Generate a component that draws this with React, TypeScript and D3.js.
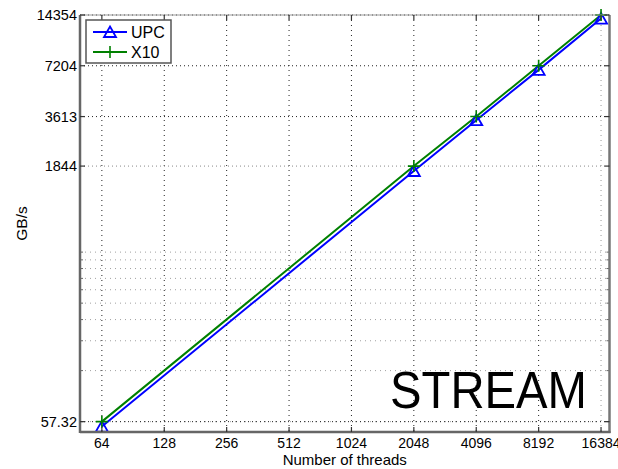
import React from 'react';
import * as d3 from 'd3';

// thread counts where both runs were measured
const threads = [64, 2048, 4096, 8192, 16384];
const upcGBs = [53.6, 1725, 3440, 6810, 13680];
const x10GBs = [57.32, 1844, 3613, 7204, 14354];

const seriesNames = ['UPC', 'X10'];
const xTicks = [64, 128, 256, 512, 1024, 2048, 4096, 8192, 16384];
const yTicks = [57.32, 1844, 3613, 7204, 14354];
const yTickLabels = ['57.32', '1844', '3613', '7204', '14354'];
// minor log grid of the original axis (its units: 100 sits at the 57.32 tick)
const yMinor = [100, 200, 300, 400, 500, 600, 700, 800, 900, 1000];
const minorToGBs = 57.32 / 100;

const width = 618, height = 469;
const plot = { left: 80, right: 609.5, top: 15, bottom: 432 };
const font = '"Liberation Sans", Arial, Helvetica, sans-serif';
const blue = '#0000ff', green = '#008000';

const App = () => {
  const x = d3.scaleLog().base(2).domain([50.2, 18000]).range([plot.left, plot.right]);
  const y = d3.scaleLog().domain([49.8, 14354]).range([plot.bottom, plot.top]);

  const line = d3.line<number>()
    .x((d, i) => x(threads[i]))
    .y(d => y(d));

  const tri = 'M0,-5.5L6,5L-6,5Z';
  const plus = 'M-6,0H6M0,-6V6';

  const marker = (name: string, cx: number, cy: number, key: string) =>
    name === 'UPC'
      ? <path key={key} d={tri} transform={`translate(${cx},${cy})`} fill="none" stroke={blue} strokeWidth={1.8} />
      : <path key={key} d={plus} transform={`translate(${cx},${cy})`} fill="none" stroke={green} strokeWidth={1.6} />;

  return (
    <svg width={width} height={height} style={{ position: 'absolute', left: 0, top: 0, background: '#fff' }} fontFamily={font}>
      <rect x={0} y={0} width={width} height={height} fill="#fff" />

      {/* minor horizontal grid */}
      {yMinor.map(v => {
        const yy = y(v * minorToGBs);
        return (
          <g key={'m' + v}>
            <line x1={plot.left} x2={plot.right} y1={yy} y2={yy} stroke="#a0a0a0" strokeWidth={1} strokeDasharray="1,4" />
            <line x1={plot.left} x2={plot.left + 3} y1={yy} y2={yy} stroke="#666" />
            <line x1={plot.right - 3} x2={plot.right} y1={yy} y2={yy} stroke="#666" />
          </g>
        );
      })}

      {/* major grid */}
      {xTicks.map(t => (
        <line key={'gx' + t} x1={x(t)} x2={x(t)} y1={plot.top} y2={plot.bottom}
          stroke={t === 16384 ? '#999' : '#222'} strokeWidth={1} strokeDasharray="1,4" />
      ))}
      {yTicks.map(t => (
        <line key={'gy' + t} x1={plot.left} x2={plot.right} y1={y(t)} y2={y(t)}
          stroke={t === 1844 ? '#888' : '#222'} strokeWidth={1} strokeDasharray="1,3" />
      ))}

      {/* data */}
      <path d={line(upcGBs) || ''} fill="none" stroke={blue} strokeWidth={2} />
      <path d={line(x10GBs) || ''} fill="none" stroke={green} strokeWidth={2} />
      {upcGBs.map((v, i) => marker('UPC', x(threads[i]), y(v), 'u' + i))}
      {x10GBs.map((v, i) => marker('X10', x(threads[i]), y(v), 'x' + i))}

      {/* axes box */}
      <line x1={plot.left} x2={plot.right} y1={plot.top} y2={plot.top} stroke="#999" strokeWidth={1} />
      <line x1={plot.left} x2={plot.left} y1={plot.top} y2={plot.bottom + 1} stroke="#666" strokeWidth={2.5} />
      <line x1={plot.right} x2={plot.right} y1={plot.top} y2={plot.bottom + 1} stroke="#777" strokeWidth={2.5} />
      <line x1={plot.left} x2={plot.right + 1} y1={plot.bottom} y2={plot.bottom} stroke="#666" strokeWidth={2.5} />

      {/* ticks */}
      {xTicks.map(t => (
        <g key={'tx' + t}>
          <line x1={x(t)} x2={x(t)} y1={plot.bottom} y2={plot.bottom - 5} stroke="#333" strokeWidth={1.2} />
          <line x1={x(t)} x2={x(t)} y1={plot.top} y2={plot.top + 5} stroke="#333" strokeWidth={1.2} />
          <text x={x(t)} y={448} textAnchor="middle" fontSize={14} fill="#000">{t}</text>
        </g>
      ))}
      {yTicks.map((t, i) => (
        <g key={'ty' + t}>
          <line x1={plot.left} x2={plot.left + 5} y1={y(t)} y2={y(t)} stroke="#333" strokeWidth={1.2} />
          <line x1={plot.right - 5} x2={plot.right} y1={y(t)} y2={y(t)} stroke="#333" strokeWidth={1.2} />
          <text x={77} y={y(t) + 5} textAnchor="end" fontSize={14.5} fill="#000">{yTickLabels[i]}</text>
        </g>
      ))}

      {/* axis titles */}
      <text x={(plot.left + plot.right) / 2} y={465} textAnchor="middle" fontSize={15} fill="#000">Number of threads</text>
      <text transform={`translate(27,${(plot.top + plot.bottom) / 2}) rotate(-90)`} textAnchor="middle" fontSize={15.5} fill="#000">GB/s</text>

      {/* legend */}
      <rect x={86} y={20} width={85} height={43} fill="#fff" stroke="#555" strokeWidth={1.5} />
      {seriesNames.map((name, i) => {
        const ly = 32 + i * 20;
        return (
          <g key={'l' + name}>
            <line x1={93} x2={127} y1={ly} y2={ly} stroke={name === 'UPC' ? blue : green} strokeWidth={2} />
            {marker(name, 110, ly, 'lm' + name)}
            <text x={131} y={ly + 6} fontSize={16} fill="#000">{name}</text>
          </g>
        );
      })}

      <text x={390} y={407.5} fontSize={51} textLength={197} lengthAdjust="spacingAndGlyphs" fill="#000">STREAM</text>
    </svg>
  );
};

export default App;
